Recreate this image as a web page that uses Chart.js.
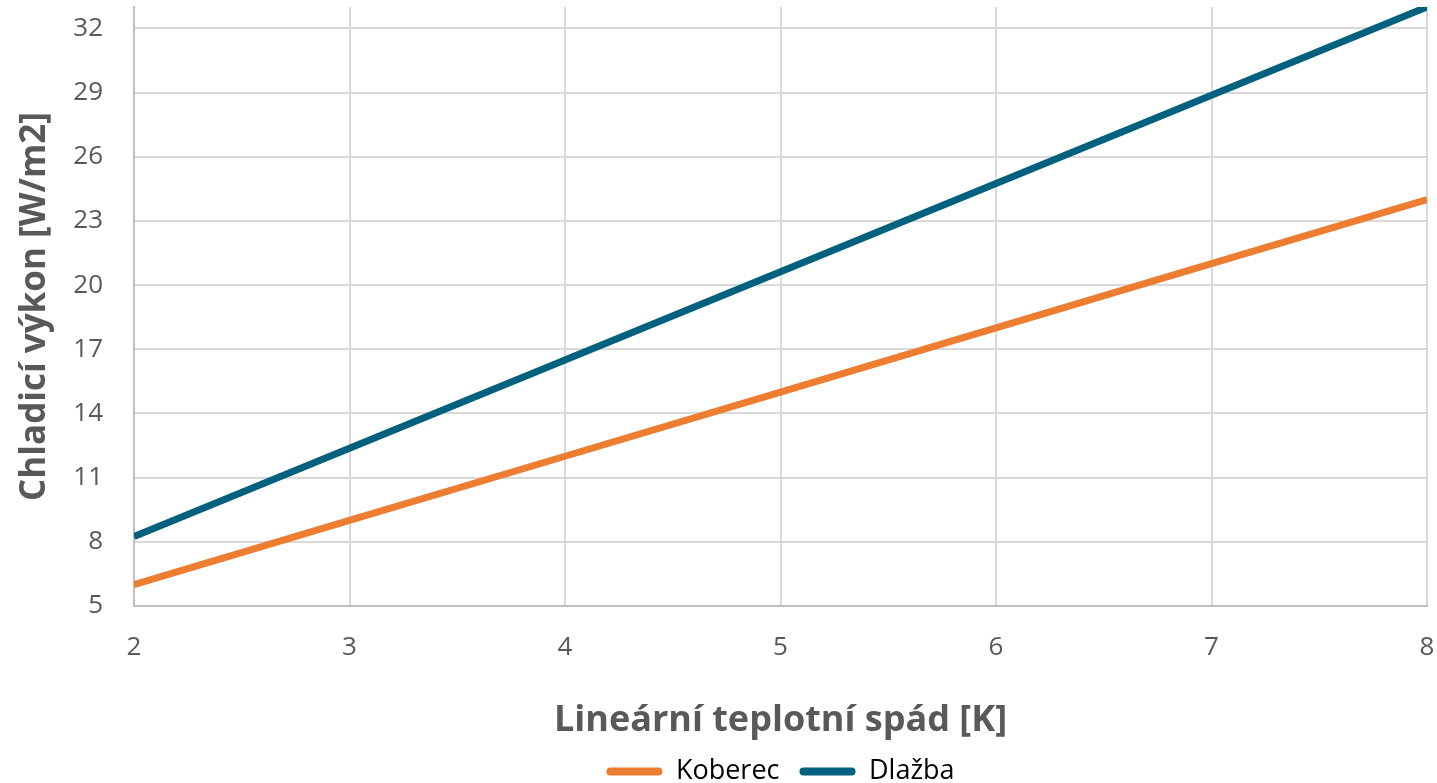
<!DOCTYPE html>
<html>
<head>
<meta charset="utf-8">
<script src="https://cdn.jsdelivr.net/npm/chart.js@4/dist/chart.umd.min.js"></script>
<style>
html,body{margin:0;padding:0;background:#fff;}
#wrap{width:1437px;height:783px;position:relative;}
</style>
</head>
<body>
<div id="wrap"><canvas id="c" width="1437" height="783"></canvas></div>
<script>
const xValues = [2, 3, 4, 5, 6, 7, 8];
const koberec = [6, 9, 12, 15, 18, 21, 24];
const dlazba = [8.25, 12.375, 16.5, 20.625, 24.75, 28.875, 33];
const yTicks = [5, 8, 11, 14, 17, 20, 23, 26, 29, 32];
const seriesNames = ['Koberec', 'Dlažba'];
const xTitle = 'Lineární teplotní spád [K]';
const yTitle = 'Chladicí výkon [W/m2]';

const font = "'Open Sans', 'Liberation Sans', sans-serif";
new Chart(document.getElementById('c'), {
  type: 'line',
  data: {
    datasets: [
      { label: seriesNames[0], data: xValues.map((x,i)=>({x:x,y:koberec[i]})), borderColor:'#ED7D31', backgroundColor:'#ED7D31', borderWidth:7, pointRadius:0, tension:0 },
      { label: seriesNames[1], data: xValues.map((x,i)=>({x:x,y:dlazba[i]})), borderColor:'#00617F', backgroundColor:'#00617F', borderWidth:7, pointRadius:0, tension:0 }
    ]
  },
  options: {
    responsive:false, animation:false,
    layout:{padding:{left:0,right:10,top:7,bottom:-12}},
    plugins:{
      legend:{position:'bottom', fullSize:false,
        labels:{font:{family:font,size:27}, color:'#000', boxWidth:56, boxHeight:8, useBorderRadius:true, borderRadius:4, padding:20,
          generateLabels:(chart)=>Chart.defaults.plugins.legend.labels.generateLabels(chart).map(l=>Object.assign(l,{lineWidth:0}))}},
      tooltip:{enabled:false}
    },
    scales:{
      x:{type:'linear', min:2, max:8,
        afterFit:(s)=>{ s.height = 132; s.paddingLeft = 0; s.paddingRight = 0; },
        ticks:{stepSize:1, color:'#595959', font:{family:font,size:26}, padding:26},
        grid:{color:'#D9D9D9', lineWidth:2, drawTicks:false},
        border:{color:'#BFBFBF', width:2},
        title:{display:true, text:xTitle, color:'#595959', font:{family:font,size:36,weight:'bold'}, padding:{top:0,bottom:-4}}
      },
      y:{min:5, max:33,
        afterBuildTicks:(s)=>{ s.ticks = yTicks.map(v=>({value:v})); },
        afterFit:(s)=>{ s.width = 134; s.paddingTop = 0; s.paddingBottom = 0; },
        ticks:{color:'#595959', font:{family:font,size:26}, padding:31},
        grid:{color:'#D9D9D9', lineWidth:2, drawTicks:false},
        border:{color:'#BFBFBF', width:2},
        title:{display:true, text:yTitle, color:'#595959', font:{family:font,size:35,weight:'bold'}, padding:{top:14,bottom:0}}
      }
    }
  }
});
</script>
</body>
</html>
